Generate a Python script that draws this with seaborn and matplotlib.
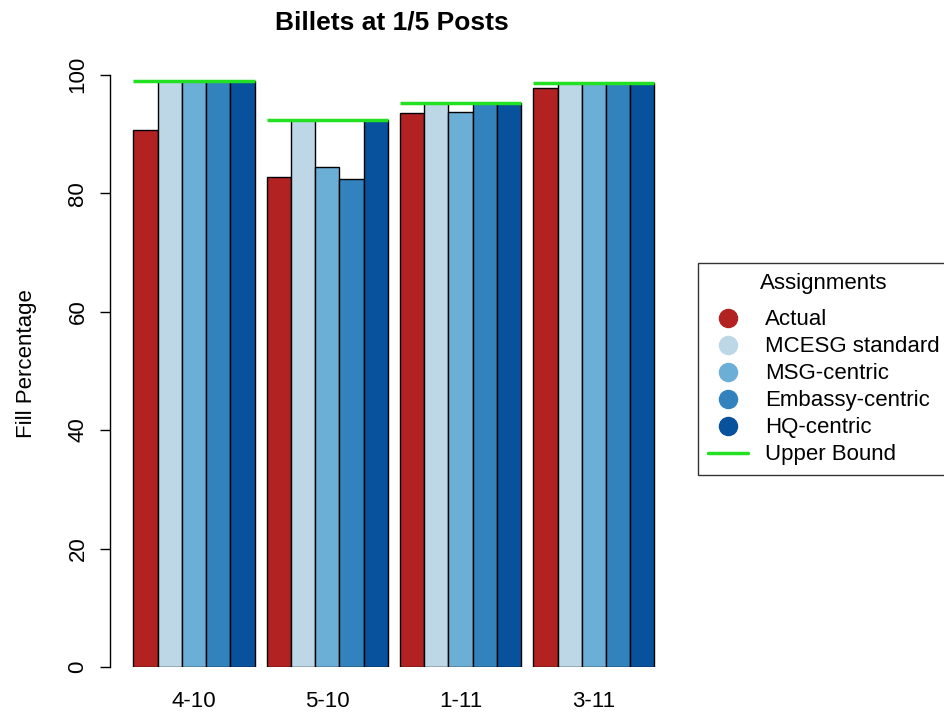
import matplotlib
matplotlib.use("Agg")
import matplotlib.pyplot as plt
from matplotlib.lines import Line2D
import numpy as np
import pandas as pd
import seaborn as sns

# data
periods = ["4-10", "5-10", "1-11", "3-11"]
methods = ["Actual", "MCESG standard", "MSG-centric", "Embassy-centric", "HQ-centric"]
actual = [90.7, 82.8, 93.5, 97.7]
mcesg = [99.0, 92.4, 95.3, 98.6]
msg = [99.0, 84.5, 93.8, 98.6]
embassy = [99.0, 82.4, 95.3, 98.6]
hq = [99.0, 92.4, 95.3, 98.6]
upper_bound = [99.0, 92.4, 95.3, 98.6]

colors = ["#B22222", "#BDD7E7", "#6BAED6", "#3182BD", "#08519C"]
bound_color = "#22E022"

sns.set_style("white")
plt.rcParams["font.family"] = ["Liberation Sans", "DejaVu Sans"]
plt.rcParams["text.color"] = "black"
plt.rcParams["axes.labelcolor"] = "black"
plt.rcParams["xtick.color"] = "black"
plt.rcParams["ytick.color"] = "black"

df = pd.DataFrame({
    "period": np.repeat(periods, len(methods)),
    "method": methods * len(periods),
    "value": np.column_stack([actual, mcesg, msg, embassy, hq]).ravel(),
})

fig = plt.figure(figsize=(9.44, 7.21), dpi=100)
ax = fig.add_axes([110 / 944, 54 / 721, 566 / 944, 607 / 721])

group_width = 5 / 5.5
sns.barplot(data=df, x="period", y="value", hue="method", order=periods,
            hue_order=methods, palette=colors, width=group_width, gap=0,
            edgecolor="black", linewidth=1.0, saturation=1, legend=False, ax=ax)

# upper bound line across each group
xs = np.arange(len(periods))
ax.hlines(upper_bound, xs - group_width / 2, xs + group_width / 2,
          color=bound_color, linewidth=2.5, zorder=5)

fs = 16
ax.set_xlim(-0.63, 3.616)
ax.set_ylim(0, 102.5)
ax.set_yticks([0, 20, 40, 60, 80, 100])
ax.tick_params(axis="y", left=True, length=7.5, width=1, labelsize=fs, pad=8,
               labelrotation=90, color="black")
for lab in ax.get_yticklabels():
    lab.set_verticalalignment("center")
ax.tick_params(axis="x", bottom=False, length=0, labelsize=fs, pad=17)

for s in ["top", "right", "bottom"]:
    ax.spines[s].set_visible(False)
ax.spines["left"].set_bounds(0, 100)
ax.spines["left"].set_color("black")
ax.spines["left"].set_linewidth(1)

ax.set_xlabel("")
ax.set_ylabel("Fill Percentage", fontsize=fs, labelpad=22)
fig.suptitle("Billets at 1/5 Posts", x=392 / 944, y=0.986, fontsize=19,
             fontweight="bold")

handles = [Line2D([0], [0], marker="o", linestyle="none", markersize=13,
                  markerfacecolor=c, markeredgecolor=c) for c in colors]
handles.append(Line2D([0], [0], color=bound_color, linewidth=2.5))
leg = fig.legend(handles, methods + ["Upper Bound"], title="Assignments",
                 loc="upper left", bbox_to_anchor=(698 / 944, 1 - 263 / 721),
                 fontsize=fs, title_fontsize=fs, frameon=True,
                 fancybox=False, edgecolor="black", labelspacing=0.27,
                 handlelength=1.8, handletextpad=0.75, borderpad=0.45,
                 borderaxespad=0)
leg.get_frame().set_linewidth(1)
# wider gap between the legend title and its entries
leg._legend_box.sep = 11

fig.savefig("out.png", dpi=100)
